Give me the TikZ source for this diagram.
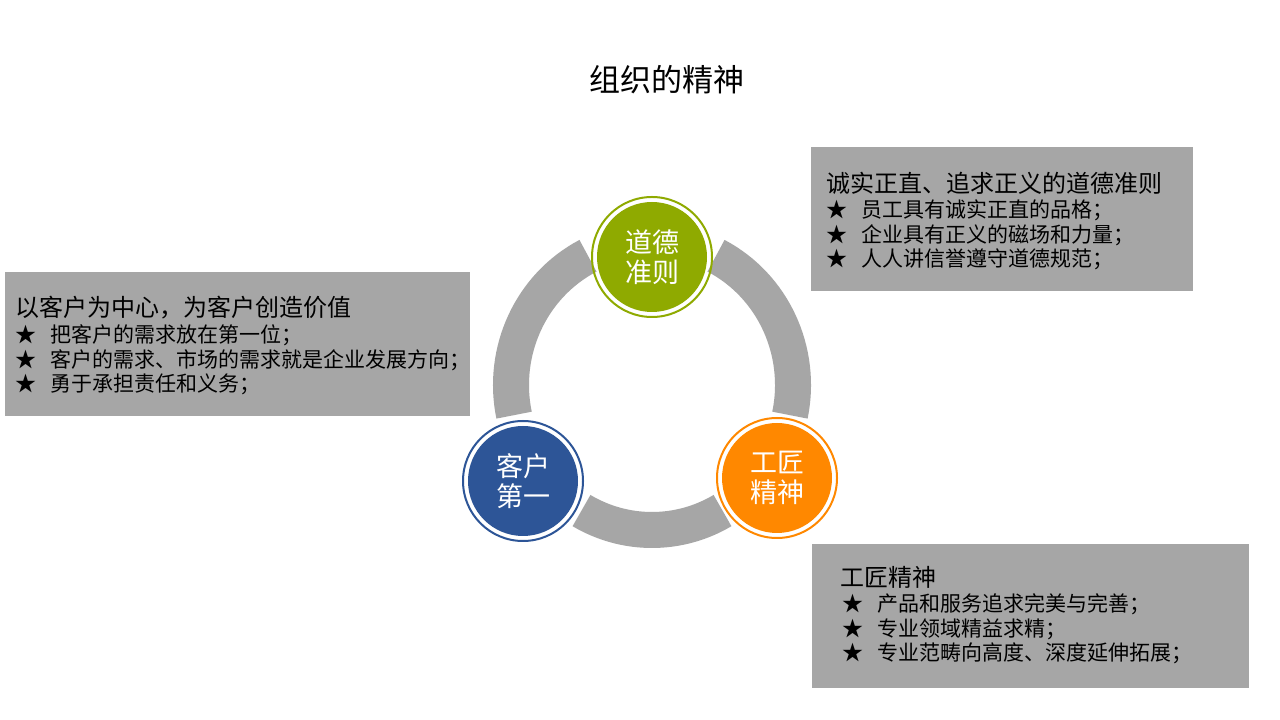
\documentclass[tikz,border=0pt]{standalone}
\usepackage{fontspec}
\setmainfont{Noto Sans CJK SC}
\usepackage{tikz}
\usetikzlibrary{calc}
\definecolor{boxgray}{HTML}{A6A6A6}
\definecolor{ringgray}{HTML}{A6A6A6}
\definecolor{moralgreen}{HTML}{8FAA00}
\definecolor{clientblue}{HTML}{2D5597}
\definecolor{craftorange}{HTML}{FF8800}

\begin{document}
\begin{tikzpicture}[x=1pt,y=1pt,
    ringseg/.style={draw=ringgray,line width=36pt},
    infobox/.style={fill=boxgray,inner sep=0pt,anchor=north west},
    boxhead/.style={anchor=west,inner sep=0pt,font=\fontsize{24}{26}\selectfont},
    boxitem/.style={anchor=west,inner sep=0pt,font=\fontsize{21}{24}\selectfont},
    bubble/.style={circle,fill=#1,inner sep=0pt,minimum size=110pt,text=white,align=center,font=\fontsize{27}{30}\selectfont}]
    \fill[white] (0,0) rectangle (1280,720);
    \useasboundingbox (0,0) rectangle (1280,720);
    \node (title) at (667,640) {\fontsize{31}{34}\selectfont 组织的精神};
    \coordinate (ring) at (652,335);
    \foreach \a/\b in {117/192,240/300,-12/63} {
      \draw[ringseg] ($(ring)+(\a:141 and 145)$) arc[start angle=\a,end angle=\b,x radius=141,y radius=145];
    }
    \node[bubble=moralgreen] (moral) at (652,463) {道德\\准则};
    \node[bubble=clientblue] (client) at (523,239) {客户\\第一};
    \node[bubble=craftorange] (craft) at (777,242) {工匠\\精神};
    \foreach \n/\c in {moral/moralgreen,client/clientblue,craft/craftorange} {
      \draw[\c,line width=2pt] (\n.center) circle[radius=60];
    }
    \node[infobox,minimum width=382pt,minimum height=144pt] (ethicsbox) at (811,573) {};
    \node[boxhead] (ethicshead) at (826,537) {诚实正直、追求正义的道德准则};
    \foreach \t [count=\i] in {员工具有诚实正直的品格；,企业具有正义的磁场和力量；,人人讲信誉遵守道德规范；} {
      \node[boxitem] (ethics\i) at (826,534-24.5*\i) {★\hspace{0.7em}\t};
    }
    \node[infobox,minimum width=465pt,minimum height=144pt] (clientbox) at (5,448) {};
    \node[boxhead] (clienthead) at (15,412) {以客户为中心，为客户创造价值};
    \foreach \t [count=\i] in {把客户的需求放在第一位；,客户的需求、市场的需求就是企业发展方向；,勇于承担责任和义务；} {
      \node[boxitem] (client\i) at (15,409-24.5*\i) {★\hspace{0.7em}\t};
    }
    \node[infobox,minimum width=437pt,minimum height=144pt] (craftbox) at (812,176) {};
    \node[boxhead] (crafthead) at (840,143) {工匠精神};
    \foreach \t [count=\i] in {产品和服务追求完美与完善；,专业领域精益求精；,专业范畴向高度、深度延伸拓展；} {
      \node[boxitem] (craft\i) at (842,140-24.5*\i) {★\hspace{0.7em}\t};
    }
\end{tikzpicture}
\end{document}
